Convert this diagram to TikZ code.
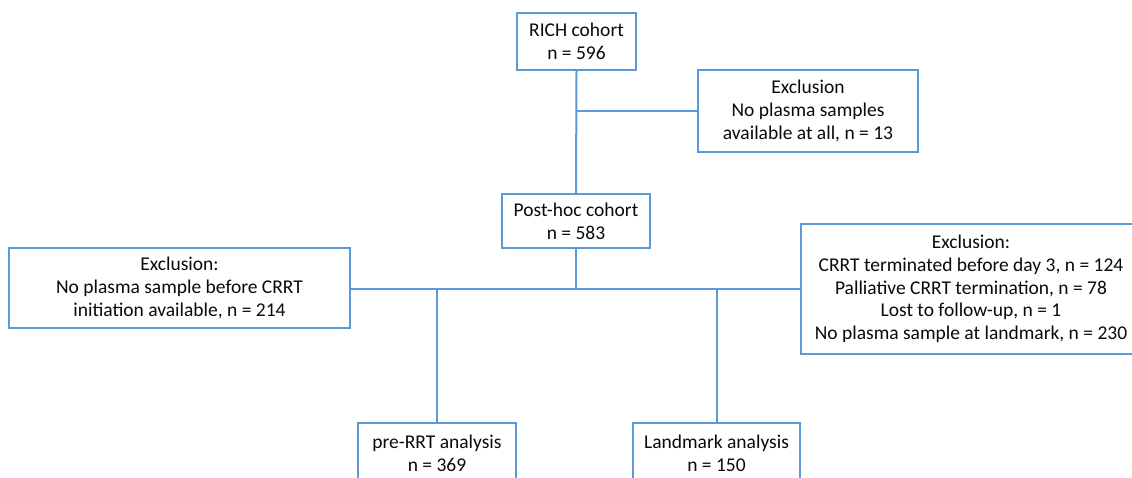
\documentclass[tikz,border=0pt]{standalone}
\usepackage{fontspec}
\setmainfont{Carlito}
\definecolor{boxblue}{RGB}{91,155,213}
\definecolor{txt}{RGB}{10,10,10}
\begin{document}
\begin{tikzpicture}[x=1pt,y=-1pt,
  fbox/.style={draw=boxblue,line width=2pt,fill=white,align=center,text=txt,
    font=\fontsize{19.5}{22.7}\selectfont,inner sep=0pt},
  conn/.style={draw=boxblue,line width=2pt}]
\useasboundingbox (0,0) rectangle (1132,478);
\clip (0,0) rectangle (1132,478);
\node[fbox,minimum width=119,minimum height=57] (rich) at (576.5,41.5) {RICH cohort\\n = 596};
\node[fbox,minimum width=220,minimum height=82] (ex1) at (808,111) {Exclusion\\No plasma samples\\available at all, n = 13};
\node[fbox,minimum width=148,minimum height=54] (post) at (576,221) {Post-hoc cohort\\n = 583};
\node[fbox,minimum width=341,minimum height=80] (ex2) at (179.5,288) {Exclusion:\\No plasma sample before CRRT\\initiation available, n = 214};
\node[fbox,minimum width=340,minimum height=130] (ex3) at (971,289) {Exclusion:\\CRRT terminated before day 3, n = 124\\Palliative CRRT termination, n = 78\\Lost to follow-up, n = 1\\No plasma sample at landmark, n = 230};
\node[fbox,minimum width=158,minimum height=61] (pre) at (437,453.5) {pre-RRT analysis\\n = 369};
\node[fbox,minimum width=167,minimum height=61] (land) at (716.5,453.5) {Landmark analysis\\n = 150};
\coordinate (j1) at (rich.south |- ex1.west);
\coordinate (j2) at (576,289);
\coordinate (jp) at (pre.north |- j2);
\coordinate (jl) at (land.north |- j2);
\draw[conn] (rich.south) -- (post.north);
\draw[conn] (j1) -- (ex1.west);
\draw[conn] (post.south) -- (j2);
\draw[conn] (ex2.east |- j2) -- (ex3.west |- j2);
\draw[conn] (jp) -- (pre.north);
\draw[conn] (jl) -- (land.north);
\end{tikzpicture}
\end{document}
